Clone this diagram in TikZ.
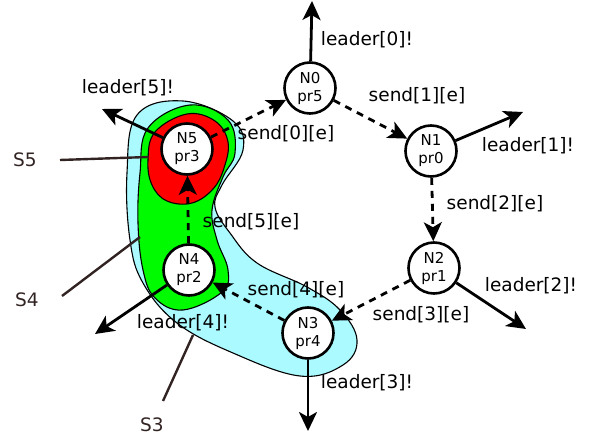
\documentclass[tikz,border=0pt]{standalone}
\usepackage{fontspec}
\setmainfont{DejaVu Sans}
\usetikzlibrary{arrows.meta}
\definecolor{cyanblob}{RGB}{170,250,255}
\definecolor{greenblob}{RGB}{0,250,0}
\definecolor{redblob}{RGB}{255,0,0}
\definecolor{sline}{RGB}{50,35,35}
\begin{document}
\begin{tikzpicture}[x=1pt,y=-1pt,
  proc/.style={circle,draw,line width=2.6pt,minimum size=51pt,inner sep=0pt,fill=white,
    align=center,font=\fontsize{15}{18}\selectfont},
  lbl/.style={font=\fontsize{18.5}{22}\selectfont,inner sep=0pt},
  slbl/.style={font=\fontsize{18.5}{22}\selectfont,inner sep=0pt,text=sline},
  arr/.style={line width=2.8pt,-{Stealth[length=19pt,width=18pt,inset=5pt]}},
  darr/.style={line width=2.8pt,dash pattern=on 7pt off 6pt,-{Stealth[length=19pt,width=18pt,inset=5pt]}},
  sl/.style={line width=2.4pt,draw=sline},
  blob/.style={draw=black,line width=1.1pt}]
\useasboundingbox (0,0) rectangle (590,436);
% blobs
\filldraw[blob,fill=cyanblob] plot[smooth cycle,tension=0.65] coordinates {
 (183,101) (233,121) (243,150) (222,185) (215,207) (230,233) (257,263) (307,287) (340,310) (357,340)
 (343,365) (300,376) (233,353) (177,323) (143,283) (130,240) (127,173) (137,115)};
\filldraw[blob,fill=greenblob] plot[smooth cycle,tension=0.65] coordinates {
 (190,105) (228,120) (235,153) (223,177) (212,210) (217,240) (228,270) (222,292) (183,310)
 (155,298) (143,270) (138,223) (140,173) (148,128)};
\filldraw[blob,fill=redblob] plot[smooth cycle,tension=0.65] coordinates {
 (187,114) (215,121) (228,142) (224,168) (213,189) (192,203) (167,201) (152,185) (148,160) (155,132)};
% nodes
\node[proc] (n0) at (310,88) {N0\\pr5};
\node[proc] (n1) at (431,151) {N1\\pr0};
\node[proc] (n2) at (434,268) {N2\\pr1};
\node[proc] (n3) at (308,333) {N3\\pr4};
\node[proc] (n4) at (189,270) {N4\\pr2};
\node[proc] (n5) at (187,149) {N5\\pr3};
% leader arrow ends
\coordinate (l0) at (312,1);
\coordinate (l1) at (523,112);
\coordinate (l2) at (526,329);
\coordinate (l3) at (308,431);
\coordinate (l4) at (95,334);
\coordinate (l5) at (102,109);
\draw[arr] (n0) -- (l0);
\draw[arr] (n1) -- (l1);
\draw[arr] (n2) -- (l2);
\draw[arr] (n3) -- (l3);
\draw[arr] (n4) -- (l4);
\draw[arr] (n5) -- (l5);
% send arrows
\draw[darr] (n5) -- (n0);
\draw[darr] (n0) -- (n1);
\draw[darr] (n1) -- (n2);
\draw[darr] (n2) -- (n3);
\draw[darr] (n3) -- (n4);
\draw[darr] (n4) -- (n5);
% labels
\node[lbl] (t0) at (367,40) {leader[0]!};
\node[lbl] (t1) at (528,146) {leader[1]!};
\node[lbl] (t2) at (531,286) {leader[2]!};
\node[lbl] (t3) at (367,383) {leader[3]!};
\node[lbl] (t4) at (183,323) {leader[4]!};
\node[lbl] (t5) at (128,88) {leader[5]!};
\node[lbl] (s0) at (286,134) {send[0][e]};
\node[lbl] (s1) at (417,96) {send[1][e]};
\node[lbl] (s2) at (495,204) {send[2][e]};
\node[lbl] (s3) at (421,315) {send[3][e]};
\node[lbl] (s4) at (296,290) {send[4][e]};
\node[lbl] (s5) at (251,222) {send[5][e]};
% S labels
\node[slbl] (S5) at (25,160) {S5};
\node[slbl] (S4) at (27,300) {S4};
\node[slbl] (S3) at (152,425) {S3};
\coordinate (e5) at (148,157);
\coordinate (e4) at (140,237);
\coordinate (e3) at (193,335);
\coordinate (b5) at (60,160);
\coordinate (b4) at (62,296);
\coordinate (b3) at (163,401);
\draw[sl] (b5) -- (e5);
\draw[sl] (b4) -- (e4);
\draw[sl] (b3) -- (e3);
\end{tikzpicture}
\end{document}
